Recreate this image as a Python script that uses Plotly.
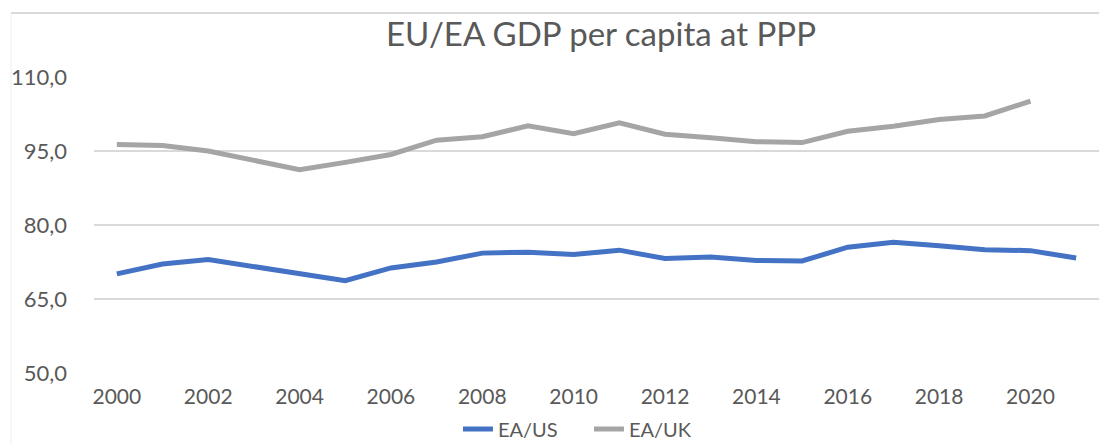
import plotly.graph_objects as go

years = list(range(2000, 2022))
ea_us = [70.1, 72.1, 73.0, 71.6, 70.3, 68.7, 71.3, 72.5, 74.3, 74.5, 74.0,
         74.9, 73.2, 73.5, 72.8, 72.7, 75.5, 76.5, 75.8, 75.0, 74.8, 73.3]
ea_uk_years = list(range(2000, 2021))
ea_uk = [96.3, 96.1, 95.0, 93.2, 91.2, 92.7, 94.3, 97.2, 97.9, 100.1, 98.5,
         100.7, 98.4, 97.7, 96.9, 96.7, 99.0, 100.0, 101.4, 102.1, 105.1]
y_ticks = [50, 65, 80, 95, 110]
y_tick_text = ["50,0", "65,0", "80,0", "95,0", "110,0"]
x_ticks = list(range(2000, 2021, 2))

W, H = 1099, 444
FONT = "Lato"
TXT = "#595959"

fig = go.Figure()
fig.add_trace(go.Scatter(x=years, y=ea_us, mode="lines", name="EA/US",
                         line=dict(color="#4472C4", width=5)))
fig.add_trace(go.Scatter(x=ea_uk_years, y=ea_uk, mode="lines", name="EA/UK",
                         line=dict(color="#A5A5A5", width=5)))

fig.update_layout(
    width=W, height=H,
    margin=dict(l=94, r=0, t=77, b=71),
    plot_bgcolor="white", paper_bgcolor="white",
    font=dict(family=FONT, color=TXT, size=21),
    title=dict(text="EU/EA GDP per capita at PPP", x=601 / W, xanchor="center",
               y=1 - 34 / H, yanchor="middle", font=dict(size=33, color=TXT, family=FONT)),
    xaxis=dict(range=[1999.5, 2021.5], tickvals=x_ticks, showgrid=False,
               zeroline=False, showline=False, ticks="", tickfont=dict(size=21),
               ticklabelstandoff=9),
    yaxis=dict(range=[50, 110], tickvals=y_ticks, ticktext=y_tick_text,
               showgrid=True, gridcolor="#D9D9D9", gridwidth=2, zeroline=False,
               showline=False, ticks="", tickfont=dict(size=22), ticklabelstandoff=26),
    legend=dict(orientation="h", x=398 / W, xanchor="left", y=1 - 429 / H,
                yanchor="middle", yref="container", font=dict(size=20),
                itemwidth=30, entrywidth=86, entrywidthmode="pixels"),
    showlegend=True,
    shapes=[
        dict(type="line", xref="paper", yref="paper", x0=-83 / 1005, x1=1.0,
             y0=1 + 64 / 296, y1=1 + 64 / 296, line=dict(color="#D9D9D9", width=2)),
        dict(type="line", xref="paper", yref="paper", x0=-83 / 1005, x1=-83 / 1005,
             y0=1 + 64 / 296, y1=-71 / 296, line=dict(color="#EEEEEE", width=1)),
    ],
)

fig.write_html("out.html")
